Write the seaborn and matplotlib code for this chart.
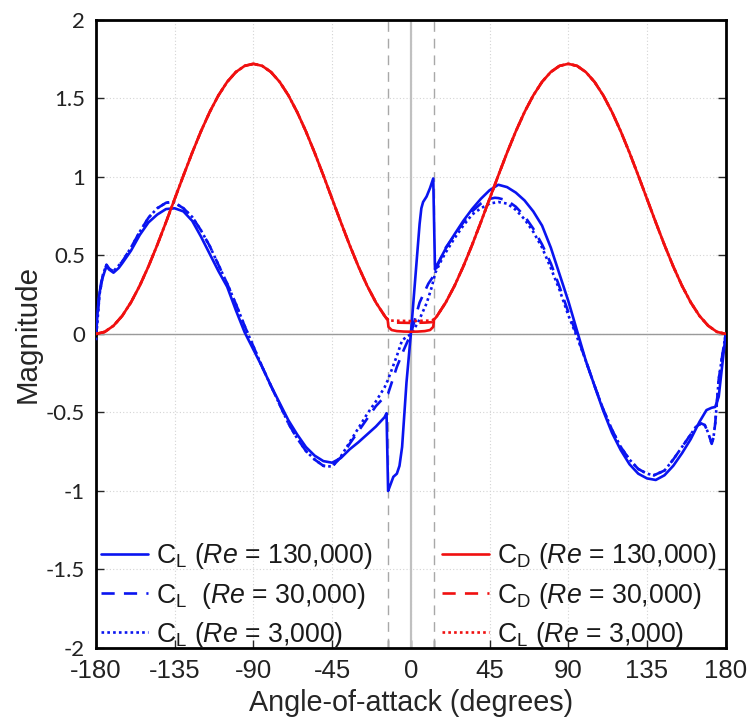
import numpy as np
import pandas as pd
import matplotlib
matplotlib.use("Agg")
import matplotlib.pyplot as plt
import seaborn as sns

# ---- values ----
# drag coefficient away from the stall region (same for every Re)
cd_far_left_aoa = [-180, -175, -170, -165, -160, -155, -150, -145, -140, -135, -130, -125,
                   -120, -115, -110, -105, -100, -95, -90, -85, -80, -75, -70, -65,
                   -60, -55, -50, -45, -40, -35, -30, -25, -20, -15]
cd_far_left = [0.0, 0.013, 0.052, 0.115, 0.201, 0.307, 0.43, 0.566, 0.711, 0.86, 1.009, 1.154,
               1.29, 1.413, 1.519, 1.605, 1.668, 1.707, 1.72, 1.707, 1.668, 1.605, 1.519, 1.413,
               1.29, 1.154, 1.009, 0.86, 0.711, 0.566, 0.43, 0.307, 0.201, 0.115]
cd_far_right_aoa = [15, 20, 25, 30, 35, 40, 45, 50, 55, 60, 65, 70, 75, 80, 85, 90, 95,
                    100, 105, 110, 115, 120, 125, 130, 135, 140, 145, 150, 155, 160, 165,
                    170, 175, 180]
cd_far_right = [0.115, 0.201, 0.307, 0.43, 0.566, 0.711, 0.86, 1.009, 1.154, 1.29, 1.413,
                1.519, 1.605, 1.668, 1.707, 1.72, 1.707, 1.668, 1.605, 1.519, 1.413, 1.29,
                1.154, 1.009, 0.86, 0.711, 0.566, 0.43, 0.307, 0.201, 0.115, 0.052, 0.013, 0.0]

# drag bucket near zero angle
cd130_mid_aoa = [-14, -13.3, -12.8, -11, -8, -4, 0, 4, 8, 11, 12.8, 13.3, 14]
cd130_mid = [0.10, 0.095, 0.045, 0.025, 0.018, 0.015, 0.014, 0.015, 0.018, 0.025, 0.045, 0.095, 0.10]
cd30_mid_aoa = [-14, -12, -8, 0, 8, 12, 14]
cd30_mid = [0.10, 0.075, 0.072, 0.07, 0.072, 0.075, 0.10]
cd3_mid_aoa = [-14, -12, 0, 12, 14]
cd3_mid = [0.10, 0.085, 0.082, 0.085, 0.10]

# lift coefficient, Re = 130,000
cl130_aoa = [-180, -178.5, -177, -175, -174, -172.5, -170, -167, -165, -160, -155, -150,
             -145, -140, -135, -130, -125, -120, -115, -110, -105, -100, -95, -90, -85,
             -80, -75, -70, -65, -60, -55, -50, -45, -40, -35, -30, -25, -20, -15, -13.9,
             -13, -12, -10, -8, -6.5, -5, -2.5, 0, 3, 5, 6, 7, 9, 11, 12.8, 13.8, 15, 20,
             25, 30, 35, 40, 45, 50, 55, 60, 65, 70, 75, 80, 85, 90, 95, 100, 105, 110,
             115, 120, 125, 130, 135, 140, 145, 150, 155, 160, 165, 169, 172, 174, 176,
             178, 180]
cl130 = [0.0, 0.22, 0.33, 0.40, 0.43, 0.41, 0.39, 0.42, 0.45, 0.53, 0.63, 0.71,
         0.76, 0.795, 0.80, 0.78, 0.72, 0.62, 0.51, 0.40, 0.30, 0.15, 0.01, -0.10, -0.21,
         -0.33, -0.44, -0.55, -0.64, -0.72, -0.775, -0.81, -0.82, -0.79, -0.735, -0.69, -0.64, -0.59, -0.53, -0.505,
         -1.0, -0.97, -0.91, -0.89, -0.84, -0.72, -0.31, 0.0, 0.42, 0.70, 0.80, 0.84, 0.875, 0.93, 0.99, 0.41, 0.44, 0.545,
         0.635, 0.72, 0.795, 0.86, 0.915, 0.95, 0.935, 0.90, 0.85, 0.78, 0.69, 0.55, 0.38, 0.21, 0.02, -0.17, -0.33, -0.49,
         -0.63, -0.74, -0.83, -0.89, -0.92, -0.93, -0.90, -0.84, -0.76, -0.67, -0.56, -0.485, -0.47, -0.465, -0.40,
         -0.20, 0.0]

# lift coefficient, Re = 30,000
cl30_aoa = [-180, -178, -176, -174, -172, -170, -165, -160, -155, -150, -145, -140, -137,
            -135, -130, -125, -120, -115, -110, -105, -100, -95, -90, -85, -80, -75, -70,
            -65, -60, -55, -50, -45, -40, -35, -30, -25, -20, -15, -13, -8, -4, 0, 5, 10,
            12.7, 15, 17.5, 20, 25, 30, 35, 40, 45, 48, 50, 55, 60, 65, 70, 75, 80, 85, 90,
            95, 100, 105, 110, 115, 120, 125, 130, 135, 139, 145, 150, 155, 160, 163, 166,
            168, 170, 172, 173, 174, 176, 178, 180]
cl30 = [0.0, 0.25, 0.38, 0.44, 0.41, 0.40, 0.46, 0.55, 0.65, 0.74, 0.80, 0.835, 0.84,
        0.835, 0.80, 0.745, 0.66, 0.56, 0.44, 0.32, 0.19, 0.05, -0.08, -0.21, -0.33, -0.45, -0.57,
        -0.665, -0.745, -0.80, -0.84, -0.845, -0.785, -0.70, -0.62, -0.54, -0.46, -0.40, -0.38, -0.21, -0.10, 0.0, 0.20, 0.32,
        0.365, 0.43, 0.49, 0.55, 0.63, 0.71, 0.78, 0.83, 0.86, 0.867, 0.865, 0.85, 0.81, 0.75, 0.67, 0.57, 0.45, 0.30, 0.14,
        -0.01, -0.17, -0.33, -0.48, -0.61, -0.72, -0.80, -0.86, -0.89, -0.90, -0.87, -0.80, -0.72, -0.64, -0.59, -0.57,
        -0.58, -0.63, -0.70, -0.66, -0.57, -0.29, -0.14, 0.0]

# lift coefficient, Re = 3,000
cl3_aoa = [-180, -178, -176, -174, -172, -170, -165, -160, -155, -150, -145, -140, -137,
           -135, -130, -125, -120, -115, -110, -105, -100, -95, -90, -85, -80, -75, -70,
           -65, -60, -55, -50, -45, -40, -35, -30, -25, -20, -15, -13, -10, -8, -5, 0, 4,
           9, 12, 14, 17.5, 20, 25, 30, 35, 40, 45, 50, 55, 60, 65, 70, 75, 80, 85, 90,
           95, 100, 105, 110, 115, 120, 125, 130, 135, 139, 145, 150, 155, 160, 163, 166,
           168, 170, 172, 173, 174, 176, 178, 180]
cl3 = [-0.04, 0.25, 0.38, 0.44, 0.41, 0.40, 0.46, 0.55, 0.65, 0.74, 0.80, 0.835, 0.84,
       0.835, 0.80, 0.745, 0.66, 0.56, 0.44, 0.32, 0.19, 0.05, -0.08, -0.21, -0.33, -0.45, -0.57,
       -0.665, -0.745, -0.80, -0.84, -0.845, -0.78, -0.69, -0.60, -0.51, -0.43, -0.34, -0.29, -0.20, -0.14, -0.04, 0.0, 0.07,
       0.195, 0.30, 0.39, 0.47, 0.52, 0.61, 0.69, 0.76, 0.80, 0.83, 0.84, 0.83, 0.79, 0.73, 0.65, 0.55, 0.42, 0.28, 0.12,
       -0.02, -0.17, -0.33, -0.48, -0.61, -0.72, -0.80, -0.86, -0.89, -0.90, -0.87, -0.80, -0.72, -0.64, -0.59, -0.57,
       -0.58, -0.63, -0.70, -0.66, -0.57, -0.29, -0.14, 0.0]

x_ticks = [-180, -135, -90, -45, 0, 45, 90, 135, 180]
y_ticks = [-2, -1.5, -1, -0.5, 0, 0.5, 1, 1.5, 2]
y_tick_labels = ['-2', '-1.5', '-1', '-0.5', '0', '0.5', '1', '1.5', '2']
stall_aoa = [-13, 13]

labels = ['C$_\\mathrm{L}$ ($\\mathit{Re}$ = 130,000)',
          'C$_\\mathrm{L}$  ($\\mathit{Re}$ = 30,000)',
          'C$_\\mathrm{L}$ ($\\mathit{Re}$ = 3,000)',
          'C$_\\mathrm{D}$ ($\\mathit{Re}$ = 130,000)',
          'C$_\\mathrm{D}$ ($\\mathit{Re}$ = 30,000)',
          'C$_\\mathrm{L}$ ($\\mathit{Re}$ = 3,000)']


def cd_frame(mid_aoa, mid_val):
    return pd.DataFrame({'aoa': cd_far_left_aoa + mid_aoa + cd_far_right_aoa,
                         'val': cd_far_left + mid_val + cd_far_right})


if __name__ == '__main__':
    sns.set_style("white")
    plt.rcParams['font.family'] = ['Liberation Sans', 'DejaVu Sans']
    plt.rcParams['axes.unicode_minus'] = False
    plt.rcParams['mathtext.fontset'] = 'custom'
    plt.rcParams['mathtext.rm'] = 'Liberation Sans'
    plt.rcParams['mathtext.it'] = 'Liberation Sans:italic'

    fig = plt.figure(figsize=(7.47, 7.22), dpi=100)
    ax = fig.add_axes([0.1285, 0.1025, 0.843, 0.870])

    # reference lines
    ax.axhline(0, color='#9a9a9a', lw=1.0, zorder=1)
    ax.axvline(0, color='#c0c0c0', lw=1.6, zorder=1)
    for a in stall_aoa:
        ax.axvline(a, color='#a8a8a8', lw=1.0, ls=(0, (7, 5)), zorder=1)

    lw = 1.9
    blue = '#0a14f0'
    red = '#f01010'
    series = [
        (pd.DataFrame({'aoa': cl130_aoa, 'val': cl130}), blue, '-'),
        (pd.DataFrame({'aoa': cl30_aoa, 'val': cl30}), blue, '--'),
        (pd.DataFrame({'aoa': cl3_aoa, 'val': cl3}), blue, ':'),
        (cd_frame(cd130_mid_aoa, cd130_mid), red, '-'),
        (cd_frame(cd30_mid_aoa, cd30_mid), red, '--'),
        (cd_frame(cd3_mid_aoa, cd3_mid), red, ':'),
    ]
    handles = []
    for (df, col, ls), lab in zip(series, labels):
        sns.lineplot(data=df, x='aoa', y='val', color=col, lw=lw, estimator=None,
                     sort=False, ax=ax, zorder=3, label=lab)
        line = ax.lines[-1]
        if ls == '--':
            line.set_dashes([5, 3.5])
        elif ls == ':':
            line.set_dashes([1, 1.2])
        handles.append(line)

    ax.set_xlim(-180, 180)
    ax.set_ylim(-2, 2)
    ax.set_xticks(x_ticks)
    ax.set_xticklabels([str(t) for t in x_ticks], fontsize=18.5)
    ax.set_xticks(stall_aoa, minor=True)
    ax.set_yticks(y_ticks)
    ax.set_yticklabels(y_tick_labels, fontsize=16, family=['Lato', 'DejaVu Sans'])
    ax.tick_params(which='both', direction='in', length=6, width=1.0,
                   left=True, right=True, bottom=True, top=False, labelcolor='#222222')
    ax.tick_params(axis='y', pad=8)
    ax.tick_params(axis='x', pad=8)
    ax.grid(True, which='major', ls=(0, (1, 2)), color='#d4d4d4', lw=0.8)
    for s in ax.spines.values():
        s.set_linewidth(2.0)
        s.set_color('black')

    ax.set_xlabel('Angle-of-attack (degrees)', fontsize=20.7, labelpad=4)
    ax.set_ylabel('Magnitude', fontsize=21.3, labelpad=3)

    ax.legend(handles=handles, labels=labels, ncol=2, frameon=False, fontsize=19.2,
              loc='lower left', bbox_to_anchor=(0.0, -0.011), handlelength=1.76,
              handletextpad=0.3, columnspacing=2.6, labelspacing=0.34, borderpad=0.2,
              borderaxespad=0.0, labelcolor='#1a1a1a')

    plt.savefig('out.png', dpi=100)
